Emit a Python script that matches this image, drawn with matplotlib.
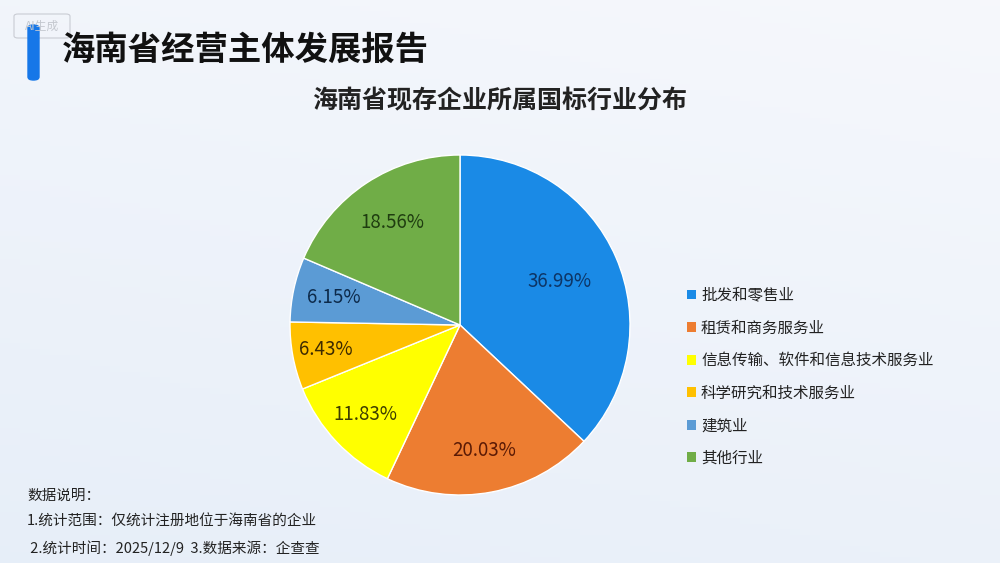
import numpy as np
import matplotlib.pyplot as plt
from matplotlib.patches import FancyBboxPatch, Patch

plt.rcParams['font.family'] = ['Noto Sans CJK SC', 'DejaVu Sans']

industries = ['批发和零售业', '租赁和商务服务业', '信息传输、软件和信息技术服务业',
              '科学研究和技术服务业', '建筑业', '其他行业']
shares = [36.99, 20.03, 11.83, 6.43, 6.15, 18.56]
colors = ['#1a8ae6', '#ed7d31', '#ffff00', '#ffc000', '#5b9bd5', '#70ad47']
label_colors = ['#0d3566', '#5a1a05', '#3d3d00', '#3d2a00', '#0d2a4a', '#1f3d10']
label_dist = [0.64, 0.75, 0.77, 0.80, 0.76, 0.72]

title = '海南省经营主体发展报告'
subtitle = '海南省现存企业所属国标行业分布'
notes = ['数据说明：', '1.统计范围：仅统计注册地位于海南省的企业', ' 2.统计时间：2025/12/9  3.数据来源：企查查']

fig = plt.figure(figsize=(10, 5.63), dpi=100)

# background gradient
bg = fig.add_axes([0, 0, 1, 1])
yy, xx = np.mgrid[0:1:100j, 0:1:100j]
c1 = np.array([0.965, 0.972, 0.988])
c2 = np.array([0.905, 0.935, 0.975])
t = (yy * 0.7 + (1 - xx) * 0.3)[..., None]
bg.imshow(c1 * (1 - t) + c2 * t, extent=[0, 1, 0, 1], aspect='auto', origin='upper')
bg.set_axis_off()

# header
bar = FancyBboxPatch((0.028, 1 - 80 / 563), 0.011, 55 / 563,
                     boxstyle='round,pad=0,rounding_size=0.0055',
                     transform=fig.transFigure, color='#1677e8', zorder=3)
fig.patches.append(bar)
tag = FancyBboxPatch((0.014, 1 - 38 / 563), 0.056, 24 / 563,
                     boxstyle='round,pad=0,rounding_size=0.004', transform=fig.transFigure,
                     facecolor='none', edgecolor='#c9ccd3', lw=0.8, zorder=2)
fig.patches.append(tag)
fig.text(0.042, 1 - 26 / 563, 'AI生成', fontsize=8.5, color='#c4c8cf', ha='center', va='center')
fig.text(0.062, 1 - 50 / 563, title, fontsize=24, fontweight='bold', color='#111111',
         ha='left', va='center')
fig.text(0.5, 1 - 101 / 563, subtitle, fontsize=18, fontweight='bold', color='#222222',
         ha='center', va='center')

# pie
r_px = 170
ax = fig.add_axes([(460 - r_px) / 1000, (563 - 325 - r_px) / 563, 2 * r_px / 1000, 2 * r_px / 563])
wedges, texts = ax.pie(shares, colors=colors, startangle=90, counterclock=False,
                       wedgeprops=dict(edgecolor='white', linewidth=1))
for w, s, lc, d in zip(wedges, shares, label_colors, label_dist):
    ang = np.deg2rad((w.theta1 + w.theta2) / 2)
    ax.text(d * np.cos(ang), d * np.sin(ang), f'{s:.2f}%', ha='center', va='center',
            fontsize=13.5, color=lc)
ax.set_xlim(-1, 1)
ax.set_ylim(-1, 1)
ax.set_aspect('equal')
ax.set_axis_off()

# legend
handles = [Patch(facecolor=c, edgecolor='none') for c in colors]
fig.legend(handles, industries, loc='upper left', bbox_to_anchor=(0.673, 1 - 273 / 563),
           frameon=False, fontsize=11.2, labelspacing=1.0, handlelength=0.6, handleheight=0.6,
           handletextpad=0.3, labelcolor='#222222')

# notes
for i, n in enumerate(notes):
    fig.text(0.027, 1 - (496 + 26 * i) / 563, n, fontsize=10.5, color='#222222', ha='left', va='center')

fig.savefig('out.png', dpi=100)
